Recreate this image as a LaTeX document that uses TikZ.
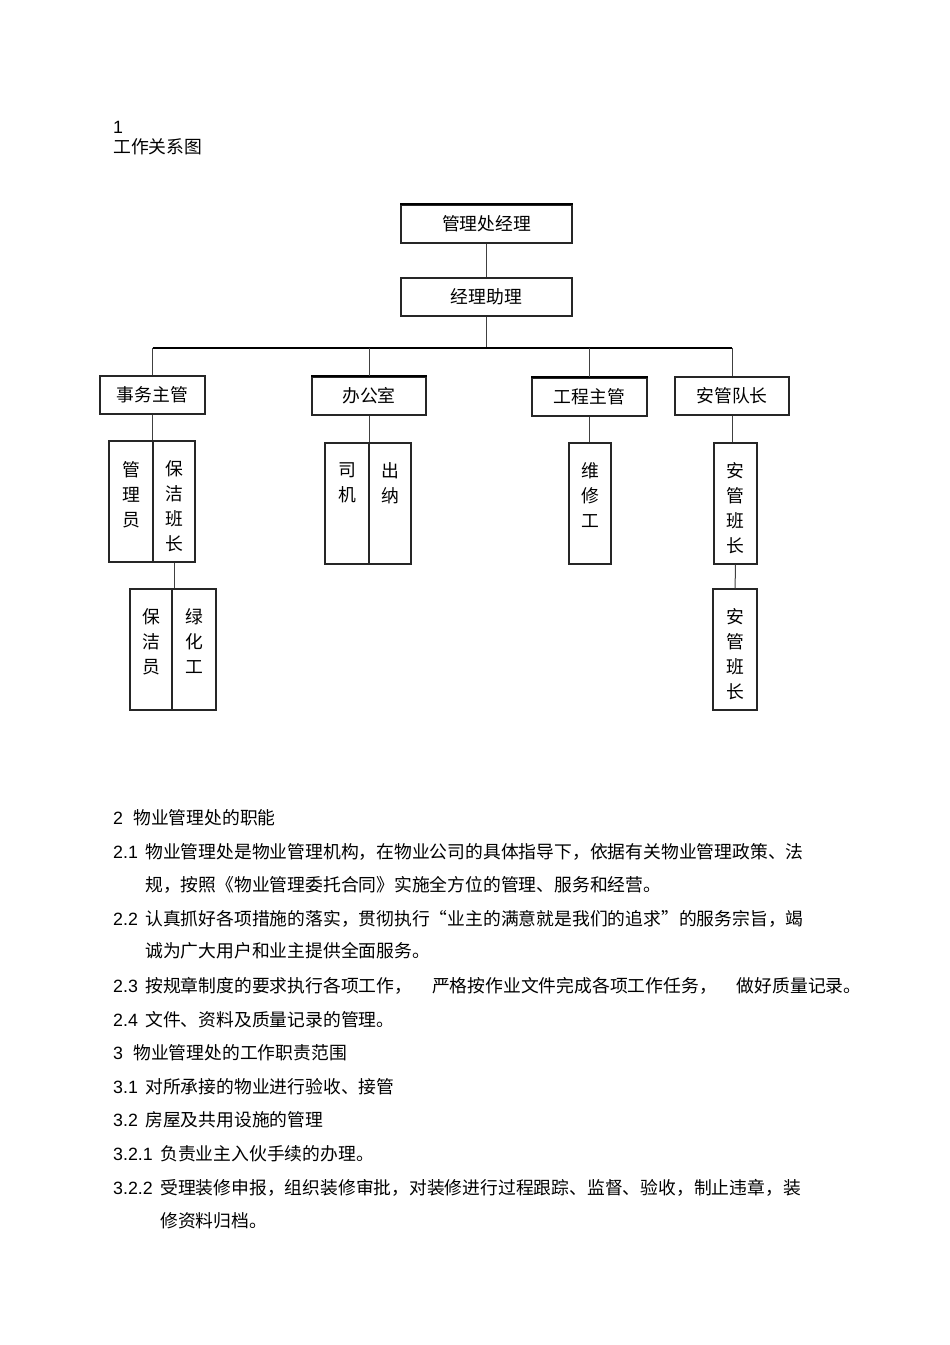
\documentclass[tikz,border=0pt]{standalone}
\usepackage{fontspec}
\setmainfont{Liberation Sans}
\newfontfamily\cjk{Noto Sans CJK SC}
% vertical column text inside the narrow boxes
\newcommand{\vcol}[2]{\parbox[c][#1][t]{20pt}{\fontsize{17.8}{25}\selectfont\centering\vspace*{20pt}#2}}
\newcommand{\numbox}[2]{\makebox[#1][l]{#2}}

\begin{document}
\begin{tikzpicture}[x=1pt,y=-1pt,
box/.style={draw=black!85, line width=1.2pt, minimum width=171, minimum height=38, inner sep=0pt, font=\cjk\fontsize{17.8}{20}\selectfont},
vbox/.style={draw=black!85, line width=1.2pt, minimum width=43, inner sep=0pt, font=\cjk},
link/.style={draw=black!75, line width=1pt},
bus/.style={draw=black, line width=2pt},
txt/.style={anchor=base west, inner sep=0pt, font=\fontsize{17.8}{20}\selectfont}
]
\useasboundingbox (0,0) rectangle (950,1345);

\node [txt] (num1) at (113,133) {1};
\node [txt] (title) at (113,153) {\cjk 工作关系图};

% chart
\node [box] (head) at (486.5,224) {管理处经理};
\node [box] (assist) at (486.5,297) {经理助理};

\node [box,minimum width=105] (affairs) at (152.5,395) {事务主管};
\node [box,minimum width=114] (office) at (369,396) {办公室};
\node [box,minimum width=115] (eng) at (589.5,397) {工程主管};
\node [box,minimum width=114] (guardhead) at (732,396) {安管队长};

\node [vbox,minimum width=44] (clerk) at (131,501.5) {\vcol{121pt}{管\\理\\员}};
\node [vbox,minimum width=42] (cleanlead) at (174,501.5) {\vcol{121pt}{保\\洁\\班\\长}};
\node [vbox,minimum width=44] (driver) at (347,503.5) {\vcol{121pt}{司\\机}};
\node [vbox,minimum width=42] (cashier) at (390,503.5) {\vcol{121pt}{出\\纳}};
\node [vbox,minimum width=42] (repair) at (590,503.5) {\vcol{121pt}{维\\修\\工}};
\node [vbox,minimum width=43] (guardlead) at (735.5,503.5) {\vcol{121pt}{安\\管\\班\\长}};

\node [vbox,minimum width=42] (cleaner) at (151,649.5) {\vcol{121pt}{保\\洁\\员}};
\node [vbox,minimum width=44] (gardener) at (194,649.5) {\vcol{121pt}{绿\\化\\工}};
\node [vbox,minimum width=44] (guard) at (735,649.5) {\vcol{121pt}{安\\管\\班\\长}};

% heavier top edges
\foreach \n in {head,office,eng}
  \draw [line width=2pt] (\n.north west) -- (\n.north east);

\coordinate (busL) at (152,348);
\draw [link] (head) -- (assist);
\draw [link] (assist) -- (assist |- busL);
\draw [bus] (affairs.north |- busL) -- (guardhead.north |- busL);
\foreach \n in {affairs,office,eng,guardhead}
  \draw [link] (\n.north |- busL) -- (\n.north);
\draw [link] (affairs) -- (affairs |- clerk.north);
\draw [link] (office) -- (office |- driver.north);
\draw [link] (eng) -- (eng |- repair.north);
\draw [link] (guardhead) -- (guardhead |- guardlead.north);
\draw [link] (cleanlead) -- (cleanlead |- cleaner.north);
\draw [link] (guardlead) -- (guard);

% text below
\node [txt] (s2) at (113,824) {\numbox{20pt}{2}\cjk 物业管理处的职能};
\node [txt] (s21) at (113,858) {\numbox{32pt}{2.1}\cjk 物业管理处是物业管理机构，在物业公司的具体指导下，依据有关物业管理政策、法};
\node [txt] (s21b) at (145,891) {\cjk 规，按照《物业管理委托合同》实施全方位的管理、服务和经营。};
\node [txt] (s22) at (113,925) {\numbox{32pt}{2.2}\cjk 认真抓好各项措施的落实，贯彻执行“业主的满意就是我们的追求”的服务宗旨，竭};
\node [txt] (s22b) at (145,957) {\cjk 诚为广大用户和业主提供全面服务。};
\node [txt] (s23) at (113,992) {\numbox{32pt}{2.3}\cjk 按规章制度的要求执行各项工作，\hspace{20pt}严格按作业文件完成各项工作任务，\hspace{20pt}做好质量记录。};
\node [txt] (s24) at (113,1026) {\numbox{32pt}{2.4}\cjk 文件、资料及质量记录的管理。};
\node [txt] (s3) at (113,1059) {\numbox{20pt}{3}\cjk 物业管理处的工作职责范围};
\node [txt] (s31) at (113,1093) {\numbox{32pt}{3.1}\cjk 对所承接的物业进行验收、接管};
\node [txt] (s32) at (113,1126) {\numbox{32pt}{3.2}\cjk 房屋及共用设施的管理};
\node [txt] (s321) at (113,1160) {\numbox{47pt}{3.2.1}\cjk 负责业主入伙手续的办理。};
\node [txt] (s322) at (113,1194) {\numbox{47pt}{3.2.2}\cjk 受理装修申报，组织装修审批，对装修进行过程跟踪、监督、验收，制止违章，装};
\node [txt] (s322b) at (160,1227) {\cjk 修资料归档。};
\end{tikzpicture}
\end{document}
